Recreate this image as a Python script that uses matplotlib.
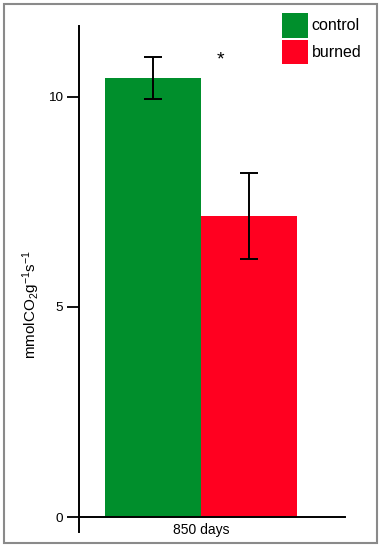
import matplotlib
matplotlib.use("Agg")
import matplotlib.pyplot as plt
from matplotlib.patches import Rectangle

plt.rcParams['font.family'] = ['Liberation Sans', 'DejaVu Sans']
plt.rcParams['mathtext.fontset'] = 'custom'
plt.rcParams['mathtext.rm'] = 'Liberation Sans'
plt.rcParams['mathtext.it'] = 'Liberation Sans'
plt.rcParams['mathtext.default'] = 'regular'

groups = ["850 days"]
series = ["control", "burned"]
values = [10.45, 7.17]
errors = [0.50, 1.02]
colors = ["#008F2C", "#FF0020"]
yticks = [0, 5, 10]

fig = plt.figure(figsize=(3.82, 5.5), dpi=100)
W, H = 382, 550
ax = fig.add_axes([79 / W, 1 - 532 / H, (345 - 79) / W, (532 - 26) / H])

width = 0.36
offsets = [-width / 2, width / 2]
for i, s in enumerate(series):
    ax.bar(0 + offsets[i], values[i], width=width, color=colors[i], label=s,
           yerr=errors[i], capsize=6.5,
           error_kw=dict(elinewidth=1.4, capthick=1.4, ecolor='black'), zorder=2)

ax.set_xlim(-0.4586, 0.5414)
ax.set_ylim(-0.357, 11.69)
ax.set_xticks([0])
ax.set_xticklabels(groups, fontsize=9.5)
ax.set_yticks(yticks)
ax.set_yticklabels([str(t) for t in yticks], fontsize=9.7)
ax.tick_params(axis='x', length=0, pad=4)
ax.tick_params(axis='y', length=8.5, width=1.3, pad=3, direction='out')

for sp in ['top', 'right']:
    ax.spines[sp].set_visible(False)
ax.spines['bottom'].set_position(('data', 0))
ax.spines['left'].set_linewidth(1.4)
ax.spines['bottom'].set_linewidth(1.4)

ax.set_ylabel(r'mmolCO$_2$g$^{-1}$s$^{-1}$', fontsize=11)
ax.yaxis.set_label_coords((42 - 79) / 266, (532 - 304) / 506)

fig.text(220 / W, 1 - 60 / H, '*', fontsize=14, ha='center', va='center')

leg = ax.legend(loc='upper left', bbox_to_anchor=(282 / W, 1 - 13 / H),
                bbox_transform=fig.transFigure, frameon=False, fontsize=11.5,
                handlelength=1.62, handleheight=2.0, handletextpad=0.25,
                labelspacing=0.12, borderpad=0.0, borderaxespad=0.0)

fig.patches.append(Rectangle((4 / W, 1 - 543 / H), (377 - 4) / W, (543 - 4) / H,
                             transform=fig.transFigure, fill=False,
                             edgecolor='#8a8a8a', linewidth=1.5))

fig.savefig('out.png', dpi=100)
